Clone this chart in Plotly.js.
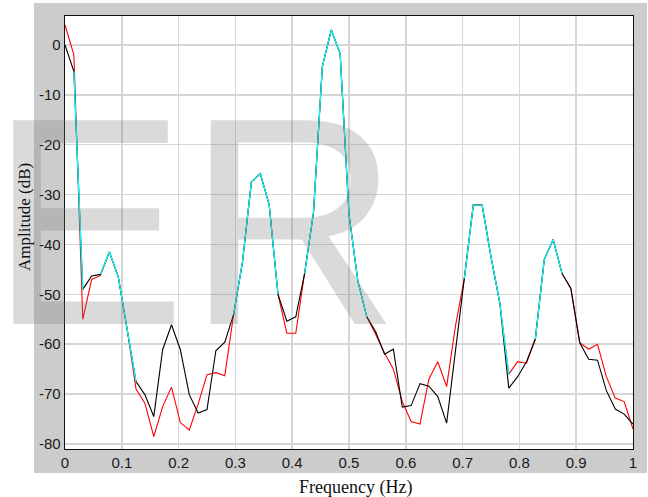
<!DOCTYPE html>
<html>
<head>
<meta charset="utf-8">
<script src="https://cdn.plot.ly/plotly-3.0.1.min.js"></script>
<style>html,body{margin:0;padding:0;background:#fff;}#chart{width:648px;height:497px;}</style>
</head>
<body>
<div id="chart"></div>
<script>
// Frequency (Hz)
const freq = [0, 0.0156, 0.0313, 0.0469, 0.0625, 0.0781, 0.0938, 0.1094, 0.125, 0.1406,
  0.1563, 0.1719, 0.1875, 0.2031, 0.2188, 0.2344, 0.25, 0.2656, 0.2813, 0.2969,
  0.3125, 0.3281, 0.3438, 0.3594, 0.375, 0.3906, 0.4063, 0.4219, 0.4375, 0.4531,
  0.4688, 0.4844, 0.5, 0.5156, 0.5313, 0.5469, 0.5625, 0.5781, 0.5938, 0.6094,
  0.625, 0.6406, 0.6563, 0.6719, 0.6875, 0.7031, 0.7188, 0.7344, 0.75, 0.7656,
  0.7813, 0.7969, 0.8125, 0.8281, 0.8438, 0.8594, 0.875, 0.8906, 0.9063, 0.9219,
  0.9375, 0.9531, 0.9688, 0.9844, 1];

// Amplitude (dB) - red series
const redAmp = [4, -2, -55, -47, -46.2, -41.5, -46.5, -57, -69, -71.8,
  -78.5, -72.5, -68.6, -75.7, -77.2, -72, -66.1, -65.7, -66.3, -54,
  -43.5, -27.5, -25.8, -32, -50, -57.8, -57.8, -45.8, -33.6, -4.3,
  3, -1.8, -34, -47.3, -54.5, -58, -61.7, -65, -71.5, -75.5,
  -76, -67, -63.5, -68.5, -56.3, -46.8, -32.1, -32.1, -42.5, -51.8,
  -66, -63.5, -63.8, -58.8, -43, -39, -45.8, -48.8, -59.7, -61,
  -60, -66.5, -70.8, -71.5, -77];

// Amplitude (dB) - black series
const blackAmp = [0, -5.3, -49, -46.3, -46, -41.5, -46.5, -57, -67.5, -70.1,
  -74.5, -61.1, -56.1, -61.1, -70.1, -73.8, -73.1, -61.3, -59.6, -54,
  -43.5, -27.5, -25.8, -32, -50, -55.4, -54.5, -45.8, -33.6, -4.3,
  3, -1.8, -34, -47.3, -54.5, -57.5, -62, -61, -72.6, -72.3,
  -67.9, -68.4, -70.5, -75.8, -61.4, -46.8, -32.1, -32.1, -42.5, -51.8,
  -68.8, -66.5, -63.5, -59, -43, -39, -45.8, -48.8, -59.7, -63,
  -63.2, -69.3, -73, -74, -76];

// Amplitude (dB) - cyan series (only where drawn)
const cyanAmp = [null, -5.3, -49, null, -46, -41.5, -46.5, -57, -67.5, null,
  null, null, null, null, null, null, null, null, null, -54,
  -43.5, -27.5, -25.8, -32, -50, null, null, -45.8, -33.6, -4.3,
  3, -1.8, -34, -47.3, -54.5, null, null, null, null, null,
  null, null, null, null, null, -46.8, -32.1, -32.1, -42.5, -51.8,
  -66, null, null, -59, -43, -39, -45.8, null, null, null,
  null, null, null, null, null];

const xTickVals = [0, 0.1, 0.2, 0.3, 0.4, 0.5, 0.6, 0.7, 0.8, 0.9, 1];
const xTickText = ['0', '0.1', '0.2', '0.3', '0.4', '0.5', '0.6', '0.7', '0.8', '0.9', '1'];
const yTickVals = [-80, -70, -60, -50, -40, -30, -20, -10, 0];
const yTickText = ['-80', '-70', '-60', '-50', '-40', '-30', '-20', '-10', '0'];

const W = 648, H = 497;
const mL = 65, mR = 15, mT = 16, mB = 48;
const pw = W - mL - mR, ph = H - mT - mB;
const px = X => (X - mL) / pw;
const py = Y => (H - mB - Y) / ph;

const traces = [
  {x: freq, y: redAmp, type: 'scatter', mode: 'lines', line: {color: '#ff0000', width: 1.1}, name: 'red'},
  {x: freq, y: blackAmp, type: 'scatter', mode: 'lines', line: {color: '#000000', width: 1.1}, name: 'black'},
  {x: freq, y: cyanAmp, type: 'scatter', mode: 'lines', line: {color: '#00ffff', width: 1.3}, name: 'cyan', connectgaps: false}
];

const whiteRect = (x0, x1, y0, y1) => ({type: 'rect', xref: 'paper', yref: 'paper', x0: px(x0), x1: px(x1), y0: py(y1), y1: py(y0), fillcolor: '#ffffff', line: {width: 0}, layer: 'below'});

const layout = {
  width: W, height: H,
  margin: {l: mL, r: mR, t: mT, b: mB, pad: 0},
  paper_bgcolor: '#cccccc',
  plot_bgcolor: '#ffffff',
  showlegend: false,
  hovermode: false,
  xaxis: {
    range: [0, 1], tickvals: xTickVals, ticktext: xTickText,
    showgrid: true, gridcolor: '#d6d6d6', gridwidth: 1.5,
    showline: true, linecolor: '#111', linewidth: 1.3, mirror: true,
    zeroline: false, ticks: '',
    tickfont: {family: 'Liberation Sans, Arial, sans-serif', size: 15, color: '#1a1a1a'}
  },
  yaxis: {
    range: [-81, 5.8], tickvals: yTickVals, ticktext: yTickText,
    showgrid: true, gridcolor: '#d6d6d6', gridwidth: 1.5,
    showline: true, linecolor: '#111', linewidth: 1.3, mirror: true,
    zeroline: false, ticks: '',
    tickfont: {family: 'Liberation Sans, Arial, sans-serif', size: 15, color: '#1a1a1a'}
  },
  shapes: [
    whiteRect(-5, 34, -5, 505),
    whiteRect(-5, 655, 473, 505),
    whiteRect(-5, 655, -5, 3),
    whiteRect(647, 655, -5, 505)
  ],
  annotations: [
    {text: 'ER', xref: 'paper', yref: 'paper', x: px(-13.4), y: py(221.4), xanchor: 'left', yanchor: 'middle',
     showarrow: false, font: {family: 'Liberation Sans, Arial, sans-serif', size: 296, color: 'rgba(120,120,120,0.27)'}},
    {text: 'Frequency (Hz)', xref: 'paper', yref: 'paper', x: px(355), y: py(487), xanchor: 'center', yanchor: 'middle',
     showarrow: false, font: {family: 'Liberation Serif, Times New Roman, serif', size: 18, color: '#111'}},
    {text: 'Amplitude (dB)', xref: 'paper', yref: 'paper', x: px(24), y: py(217), xanchor: 'center', yanchor: 'middle',
     textangle: -90, showarrow: false, font: {family: 'Liberation Serif, Times New Roman, serif', size: 17, color: '#111'}}
  ]
};

Plotly.newPlot('chart', traces, layout, {staticPlot: true, displayModeBar: false});
</script>
</body>
</html>
